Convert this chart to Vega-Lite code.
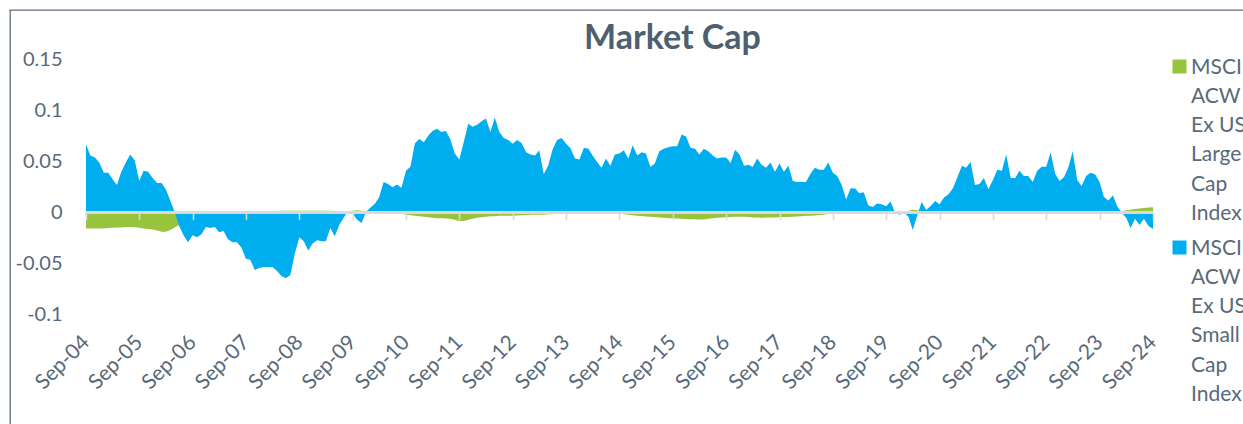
{
  "$schema": "https://vega.github.io/schema/vega-lite/v6.json",
  "width": 1233,
  "height": 414,
  "autosize": {"type": "none"},
  "padding": {"left": 10, "top": 10, "right": 0, "bottom": 0},
  "background": "#ffffff",
  "config": {
    "font": "Lato",
    "view": {"stroke": "#5f6e7d", "strokeWidth": 1.3, "strokeDash": [1233, 1647, 414, 0]},
    "style": {"guide-label": {"lineHeight": 29.3, "dy": -10}}
  },
  "title": {"text": "Market Cap", "font": "Lato", "fontSize": 34, "fontWeight": "bold", "color": "#4e5f70", "anchor": "middle", "frame": "group", "offset": -46, "dx": 46},
  "data": {"values": [
    {"date":"2004-09-01","large":-0.0155,"small":0.067},
    {"date":"2004-10-01","large":-0.0155,"small":0.056},
    {"date":"2004-11-01","large":-0.0155,"small":0.054},
    {"date":"2004-12-01","large":-0.0155,"small":0.049},
    {"date":"2005-01-01","large":-0.0155,"small":0.039},
    {"date":"2005-02-01","large":-0.015,"small":0.039},
    {"date":"2005-03-01","large":-0.0148,"small":0.033},
    {"date":"2005-04-01","large":-0.0145,"small":0.027},
    {"date":"2005-05-01","large":-0.0145,"small":0.040},
    {"date":"2005-06-01","large":-0.014,"small":0.049},
    {"date":"2005-07-01","large":-0.014,"small":0.057},
    {"date":"2005-08-01","large":-0.0142,"small":0.051},
    {"date":"2005-09-01","large":-0.0148,"small":0.031},
    {"date":"2005-10-01","large":-0.0155,"small":0.041},
    {"date":"2005-11-01","large":-0.016,"small":0.040},
    {"date":"2005-12-01","large":-0.0165,"small":0.034},
    {"date":"2006-01-01","large":-0.0175,"small":0.029},
    {"date":"2006-02-01","large":-0.0185,"small":0.029},
    {"date":"2006-03-01","large":-0.0185,"small":0.023},
    {"date":"2006-04-01","large":-0.017,"small":0.012},
    {"date":"2006-05-01","large":-0.0145,"small":0.001},
    {"date":"2006-06-01","large":-0.012,"small":-0.013},
    {"date":"2006-07-01","large":-0.009,"small":-0.022},
    {"date":"2006-08-01","large":-0.006,"small":-0.029},
    {"date":"2006-09-01","large":-0.004,"small":-0.022},
    {"date":"2006-10-01","large":-0.003,"small":-0.024},
    {"date":"2006-11-01","large":-0.002,"small":-0.021},
    {"date":"2006-12-01","large":-0.002,"small":-0.014},
    {"date":"2007-01-01","large":-0.001,"small":-0.015},
    {"date":"2007-02-01","large":-0.001,"small":-0.014},
    {"date":"2007-03-01","large":0,"small":-0.019},
    {"date":"2007-04-01","large":0,"small":-0.018},
    {"date":"2007-05-01","large":0,"small":-0.026},
    {"date":"2007-06-01","large":0,"small":-0.029},
    {"date":"2007-07-01","large":0,"small":-0.029},
    {"date":"2007-08-01","large":0,"small":-0.034},
    {"date":"2007-09-01","large":0,"small":-0.045},
    {"date":"2007-10-01","large":0,"small":-0.046},
    {"date":"2007-11-01","large":0.0005,"small":-0.056},
    {"date":"2007-12-01","large":0.001,"small":-0.054},
    {"date":"2008-01-01","large":0.001,"small":-0.053},
    {"date":"2008-02-01","large":0.001,"small":-0.053},
    {"date":"2008-03-01","large":0.0015,"small":-0.053},
    {"date":"2008-04-01","large":0.0015,"small":-0.057},
    {"date":"2008-05-01","large":0.002,"small":-0.062},
    {"date":"2008-06-01","large":0.002,"small":-0.064},
    {"date":"2008-07-01","large":0.002,"small":-0.061},
    {"date":"2008-08-01","large":0.002,"small":-0.040},
    {"date":"2008-09-01","large":0.002,"small":-0.024},
    {"date":"2008-10-01","large":0.002,"small":-0.028},
    {"date":"2008-11-01","large":0.002,"small":-0.037},
    {"date":"2008-12-01","large":0.002,"small":-0.030},
    {"date":"2009-01-01","large":0.002,"small":-0.027},
    {"date":"2009-02-01","large":0.002,"small":-0.028},
    {"date":"2009-03-01","large":0.002,"small":-0.028},
    {"date":"2009-04-01","large":0.0018,"small":-0.015},
    {"date":"2009-05-01","large":0.0015,"small":-0.023},
    {"date":"2009-06-01","large":0.001,"small":-0.012},
    {"date":"2009-07-01","large":0.0005,"small":-0.005},
    {"date":"2009-08-01","large":0.001,"small":0.002},
    {"date":"2009-09-01","large":0.002,"small":-0.001},
    {"date":"2009-10-01","large":0.0025,"small":-0.007},
    {"date":"2009-11-01","large":0.002,"small":-0.010},
    {"date":"2009-12-01","large":0.001,"small":0.001},
    {"date":"2010-01-01","large":0,"small":0.005},
    {"date":"2010-02-01","large":0,"small":0.009},
    {"date":"2010-03-01","large":0,"small":0.015},
    {"date":"2010-04-01","large":0,"small":0.030},
    {"date":"2010-05-01","large":0,"small":0.028},
    {"date":"2010-06-01","large":0,"small":0.025},
    {"date":"2010-07-01","large":0,"small":0.0275},
    {"date":"2010-08-01","large":-0.001,"small":0.0245},
    {"date":"2010-09-01","large":-0.002,"small":0.041},
    {"date":"2010-10-01","large":-0.0025,"small":0.045},
    {"date":"2010-11-01","large":-0.003,"small":0.068},
    {"date":"2010-12-01","large":-0.0035,"small":0.072},
    {"date":"2011-01-01","large":-0.004,"small":0.069},
    {"date":"2011-02-01","large":-0.0045,"small":0.0755},
    {"date":"2011-03-01","large":-0.005,"small":0.080},
    {"date":"2011-04-01","large":-0.0055,"small":0.082},
    {"date":"2011-05-01","large":-0.0055,"small":0.079},
    {"date":"2011-06-01","large":-0.0057,"small":0.080},
    {"date":"2011-07-01","large":-0.006,"small":0.072},
    {"date":"2011-08-01","large":-0.007,"small":0.058},
    {"date":"2011-09-01","large":-0.008,"small":0.052},
    {"date":"2011-10-01","large":-0.008,"small":0.069},
    {"date":"2011-11-01","large":-0.007,"small":0.087},
    {"date":"2011-12-01","large":-0.006,"small":0.084},
    {"date":"2012-01-01","large":-0.005,"small":0.086},
    {"date":"2012-02-01","large":-0.0045,"small":0.0895},
    {"date":"2012-03-01","large":-0.004,"small":0.092},
    {"date":"2012-04-01","large":-0.0035,"small":0.079},
    {"date":"2012-05-01","large":-0.0035,"small":0.093},
    {"date":"2012-06-01","large":-0.003,"small":0.079},
    {"date":"2012-07-01","large":-0.003,"small":0.073},
    {"date":"2012-08-01","large":-0.003,"small":0.071},
    {"date":"2012-09-01","large":-0.003,"small":0.0675},
    {"date":"2012-10-01","large":-0.0028,"small":0.071},
    {"date":"2012-11-01","large":-0.0025,"small":0.068},
    {"date":"2012-12-01","large":-0.0025,"small":0.059},
    {"date":"2013-01-01","large":-0.002,"small":0.057},
    {"date":"2013-02-01","large":-0.002,"small":0.056},
    {"date":"2013-03-01","large":-0.002,"small":0.061},
    {"date":"2013-04-01","large":-0.002,"small":0.0375},
    {"date":"2013-05-01","large":-0.0015,"small":0.046},
    {"date":"2013-06-01","large":-0.0015,"small":0.062},
    {"date":"2013-07-01","large":-0.001,"small":0.071},
    {"date":"2013-08-01","large":-0.001,"small":0.073},
    {"date":"2013-09-01","large":-0.001,"small":0.0675},
    {"date":"2013-10-01","large":-0.001,"small":0.063},
    {"date":"2013-11-01","large":-0.001,"small":0.053},
    {"date":"2013-12-01","large":-0.001,"small":0.052},
    {"date":"2014-01-01","large":-0.001,"small":0.0635},
    {"date":"2014-02-01","large":-0.001,"small":0.0626},
    {"date":"2014-03-01","large":-0.001,"small":0.056},
    {"date":"2014-04-01","large":-0.001,"small":0.0495},
    {"date":"2014-05-01","large":-0.001,"small":0.044},
    {"date":"2014-06-01","large":-0.001,"small":0.053},
    {"date":"2014-07-01","large":-0.001,"small":0.046},
    {"date":"2014-08-01","large":-0.001,"small":0.057},
    {"date":"2014-09-01","large":-0.001,"small":0.058},
    {"date":"2014-10-01","large":-0.0015,"small":0.061},
    {"date":"2014-11-01","large":-0.002,"small":0.053},
    {"date":"2014-12-01","large":-0.0025,"small":0.066},
    {"date":"2015-01-01","large":-0.003,"small":0.056},
    {"date":"2015-02-01","large":-0.0033,"small":0.059},
    {"date":"2015-03-01","large":-0.0036,"small":0.058},
    {"date":"2015-04-01","large":-0.004,"small":0.0446},
    {"date":"2015-05-01","large":-0.0043,"small":0.048},
    {"date":"2015-06-01","large":-0.0046,"small":0.060},
    {"date":"2015-07-01","large":-0.005,"small":0.0626},
    {"date":"2015-08-01","large":-0.0053,"small":0.064},
    {"date":"2015-09-01","large":-0.0055,"small":0.065},
    {"date":"2015-10-01","large":-0.0057,"small":0.065},
    {"date":"2015-11-01","large":-0.006,"small":0.0765},
    {"date":"2015-12-01","large":-0.0062,"small":0.0745},
    {"date":"2016-01-01","large":-0.0064,"small":0.0635},
    {"date":"2016-02-01","large":-0.0065,"small":0.0626},
    {"date":"2016-03-01","large":-0.0066,"small":0.057},
    {"date":"2016-04-01","large":-0.0066,"small":0.0626},
    {"date":"2016-05-01","large":-0.006,"small":0.060},
    {"date":"2016-06-01","large":-0.0055,"small":0.056},
    {"date":"2016-07-01","large":-0.005,"small":0.053},
    {"date":"2016-08-01","large":-0.0048,"small":0.054},
    {"date":"2016-09-01","large":-0.0045,"small":0.054},
    {"date":"2016-10-01","large":-0.0043,"small":0.0485},
    {"date":"2016-11-01","large":-0.004,"small":0.0616},
    {"date":"2016-12-01","large":-0.004,"small":0.057},
    {"date":"2017-01-01","large":-0.004,"small":0.046},
    {"date":"2017-02-01","large":-0.0043,"small":0.047},
    {"date":"2017-03-01","large":-0.0046,"small":0.0446},
    {"date":"2017-04-01","large":-0.0048,"small":0.053},
    {"date":"2017-05-01","large":-0.005,"small":0.047},
    {"date":"2017-06-01","large":-0.0048,"small":0.044},
    {"date":"2017-07-01","large":-0.0047,"small":0.049},
    {"date":"2017-08-01","large":-0.0046,"small":0.040},
    {"date":"2017-09-01","large":-0.0045,"small":0.048},
    {"date":"2017-10-01","large":-0.0043,"small":0.040},
    {"date":"2017-11-01","large":-0.0041,"small":0.046},
    {"date":"2017-12-01","large":-0.004,"small":0.031},
    {"date":"2018-01-01","large":-0.0037,"small":0.030},
    {"date":"2018-02-01","large":-0.0034,"small":0.030},
    {"date":"2018-03-01","large":-0.003,"small":0.030},
    {"date":"2018-04-01","large":-0.003,"small":0.038},
    {"date":"2018-05-01","large":-0.0027,"small":0.044},
    {"date":"2018-06-01","large":-0.0023,"small":0.042},
    {"date":"2018-07-01","large":-0.002,"small":0.042},
    {"date":"2018-08-01","large":-0.001,"small":0.049},
    {"date":"2018-09-01","large":0,"small":0.039},
    {"date":"2018-10-01","large":0,"small":0.036},
    {"date":"2018-11-01","large":0,"small":0.027},
    {"date":"2018-12-01","large":0,"small":0.013},
    {"date":"2019-01-01","large":0,"small":0.024},
    {"date":"2019-02-01","large":0,"small":0.0236},
    {"date":"2019-03-01","large":0,"small":0.019},
    {"date":"2019-04-01","large":0,"small":0.020},
    {"date":"2019-05-01","large":0,"small":0.0073},
    {"date":"2019-06-01","large":0,"small":0.0057},
    {"date":"2019-07-01","large":0,"small":0.009},
    {"date":"2019-08-01","large":0,"small":0.0083},
    {"date":"2019-09-01","large":0,"small":0.0063},
    {"date":"2019-10-01","large":0,"small":0.011},
    {"date":"2019-11-01","large":0,"small":0},
    {"date":"2019-12-01","large":0,"small":-0.002},
    {"date":"2020-01-01","large":0.001,"small":0},
    {"date":"2020-02-01","large":0.002,"small":-0.004},
    {"date":"2020-03-01","large":0.003,"small":-0.017},
    {"date":"2020-04-01","large":0.0025,"small":-0.0025},
    {"date":"2020-05-01","large":0.001,"small":0.0105},
    {"date":"2020-06-01","large":0,"small":0.003},
    {"date":"2020-07-01","large":0,"small":0.0063},
    {"date":"2020-08-01","large":0,"small":0.0115},
    {"date":"2020-09-01","large":0,"small":0.0083},
    {"date":"2020-10-01","large":0,"small":0.0148},
    {"date":"2020-11-01","large":0,"small":0.018},
    {"date":"2020-12-01","large":0,"small":0.024},
    {"date":"2021-01-01","large":0,"small":0.035},
    {"date":"2021-02-01","large":0,"small":0.046},
    {"date":"2021-03-01","large":0,"small":0.044},
    {"date":"2021-04-01","large":0,"small":0.0495},
    {"date":"2021-05-01","large":0,"small":0.027},
    {"date":"2021-06-01","large":0,"small":0.028},
    {"date":"2021-07-01","large":0,"small":0.034},
    {"date":"2021-08-01","large":0,"small":0.023},
    {"date":"2021-09-01","large":0,"small":0.032},
    {"date":"2021-10-01","large":0,"small":0.042},
    {"date":"2021-11-01","large":0,"small":0.041},
    {"date":"2021-12-01","large":0,"small":0.057},
    {"date":"2022-01-01","large":0,"small":0.034},
    {"date":"2022-02-01","large":0,"small":0.034},
    {"date":"2022-03-01","large":0,"small":0.041},
    {"date":"2022-04-01","large":0,"small":0.036},
    {"date":"2022-05-01","large":0,"small":0.036},
    {"date":"2022-06-01","large":0,"small":0.030},
    {"date":"2022-07-01","large":0,"small":0.041},
    {"date":"2022-08-01","large":0,"small":0.045},
    {"date":"2022-09-01","large":0,"small":0.045},
    {"date":"2022-10-01","large":0,"small":0.059},
    {"date":"2022-11-01","large":0,"small":0.038},
    {"date":"2022-12-01","large":0,"small":0.031},
    {"date":"2023-01-01","large":0,"small":0.035},
    {"date":"2023-02-01","large":0,"small":0.045},
    {"date":"2023-03-01","large":0,"small":0.060},
    {"date":"2023-04-01","large":0,"small":0.032},
    {"date":"2023-05-01","large":0,"small":0.026},
    {"date":"2023-06-01","large":0,"small":0.036},
    {"date":"2023-07-01","large":0,"small":0.039},
    {"date":"2023-08-01","large":0,"small":0.0375},
    {"date":"2023-09-01","large":0,"small":0.030},
    {"date":"2023-10-01","large":0,"small":0.0154},
    {"date":"2023-11-01","large":0,"small":0.012},
    {"date":"2023-12-01","large":0,"small":0.017},
    {"date":"2024-01-01","large":0,"small":0.006},
    {"date":"2024-02-01","large":0.0015,"small":0},
    {"date":"2024-03-01","large":0.0025,"small":-0.005},
    {"date":"2024-04-01","large":0.003,"small":-0.015},
    {"date":"2024-05-01","large":0.0037,"small":-0.006},
    {"date":"2024-06-01","large":0.0042,"small":-0.012},
    {"date":"2024-07-01","large":0.0047,"small":-0.006},
    {"date":"2024-08-01","large":0.005,"small":-0.013},
    {"date":"2024-09-01","large":0.0054,"small":-0.016}
  ]},
  "resolve": {"axis": {"x": "independent"}},
  "layer": [
    {
      "mark": {"type": "area", "opacity": 1, "interpolate": "linear"},
      "encoding": {
        "x": {
          "field": "date", "type": "temporal",
          "scale": {"type": "utc", "domain": [{"year": 2003, "month": 3, "date": 31, "utc": true}, {"year": 2026, "month": 5, "date": 10, "utc": true}]},
          "axis": {
            "orient": "bottom", "offset": -109, "title": null, "domain": false, "ticks": false, "grid": false,
            "format": "%b-%y", "labelAngle": -45, "labelAlign": "right", "labelBaseline": "middle", "labelPadding": 31, "labelOffset": 7,
            "labelFont": "Lato", "labelFontSize": 21, "labelColor": "#596979", "labelOverlap": false,
            "values": [
              {"year": 2004, "month": 9, "date": 1, "utc": true}, {"year": 2005, "month": 9, "date": 1, "utc": true},
              {"year": 2006, "month": 9, "date": 1, "utc": true}, {"year": 2007, "month": 9, "date": 1, "utc": true},
              {"year": 2008, "month": 9, "date": 1, "utc": true}, {"year": 2009, "month": 9, "date": 1, "utc": true},
              {"year": 2010, "month": 9, "date": 1, "utc": true}, {"year": 2011, "month": 9, "date": 1, "utc": true},
              {"year": 2012, "month": 9, "date": 1, "utc": true}, {"year": 2013, "month": 9, "date": 1, "utc": true},
              {"year": 2014, "month": 9, "date": 1, "utc": true}, {"year": 2015, "month": 9, "date": 1, "utc": true},
              {"year": 2016, "month": 9, "date": 1, "utc": true}, {"year": 2017, "month": 9, "date": 1, "utc": true},
              {"year": 2018, "month": 9, "date": 1, "utc": true}, {"year": 2019, "month": 9, "date": 1, "utc": true},
              {"year": 2020, "month": 9, "date": 1, "utc": true}, {"year": 2021, "month": 9, "date": 1, "utc": true},
              {"year": 2022, "month": 9, "date": 1, "utc": true}, {"year": 2023, "month": 9, "date": 1, "utc": true},
              {"year": 2024, "month": 9, "date": 1, "utc": true}
            ]
          }
        },
        "y": {
          "field": "large", "type": "quantitative",
          "scale": {"domain": [-0.2066, 0.1982], "nice": false, "zero": false},
          "axis": {"orient": "left", "offset": -52, "title": null, "domain": false, "ticks": false, "grid": false, "labelPadding": 0, "labelOffset": 10,
                   "values": [-0.1, -0.05, 0, 0.05, 0.1, 0.15], "labelFont": "Lato", "labelFontSize": 20, "labelColor": "#596979",
                   "labelExpr": "datum.value < 0 ? '-' + format(-datum.value, '~g') : format(datum.value, '~g')"}
        },
        "color": {
          "datum": "MSCI ACW Ex US Large Cap Index", "type": "nominal",
          "scale": {"domain": ["MSCI ACW Ex US Large Cap Index", "MSCI ACW Ex US Small Cap Index"], "range": ["#97c33d", "#00aeef"]},
          "legend": {
            "orient": "none", "legendX": 1159, "legendY": 46, "title": null, "padding": 0,
            "symbolType": "square", "symbolSize": 196, "symbolStrokeWidth": 0,
            "labelFont": "Lato", "labelFontSize": 21, "labelColor": "#596979", "labelOffset": 1, "labelLimit": 0,
            "labelBaseline": "top", "rowPadding": 13,
            "labelExpr": "indexof(datum.label, 'Large') >= 0 ? ['MSCI', 'ACW', 'Ex US', 'Large', 'Cap', 'Index'] : ['MSCI', 'ACW', 'Ex US', 'Small', 'Cap', 'Index']"
          }
        }
      }
    },
    {
      "mark": {"type": "area", "opacity": 1, "interpolate": "linear"},
      "encoding": {
        "x": {
          "field": "date", "type": "temporal",
          "scale": {"type": "utc", "domain": [{"year": 2003, "month": 3, "date": 31, "utc": true}, {"year": 2026, "month": 5, "date": 10, "utc": true}]},
          "axis": {
            "orient": "bottom", "offset": -211.3, "title": null, "domain": false, "labels": false, "grid": false,
            "ticks": true, "tickSize": 7, "tickColor": "#d9d9d9", "tickWidth": 1.5, "zindex": 1,
            "values": [
              {"year": 2004, "month": 9, "date": 1, "utc": true}, {"year": 2005, "month": 9, "date": 1, "utc": true},
              {"year": 2006, "month": 9, "date": 1, "utc": true}, {"year": 2007, "month": 9, "date": 1, "utc": true},
              {"year": 2008, "month": 9, "date": 1, "utc": true}, {"year": 2009, "month": 9, "date": 1, "utc": true},
              {"year": 2010, "month": 9, "date": 1, "utc": true}, {"year": 2011, "month": 9, "date": 1, "utc": true},
              {"year": 2012, "month": 9, "date": 1, "utc": true}, {"year": 2013, "month": 9, "date": 1, "utc": true},
              {"year": 2014, "month": 9, "date": 1, "utc": true}, {"year": 2015, "month": 9, "date": 1, "utc": true},
              {"year": 2016, "month": 9, "date": 1, "utc": true}, {"year": 2017, "month": 9, "date": 1, "utc": true},
              {"year": 2018, "month": 9, "date": 1, "utc": true}, {"year": 2019, "month": 9, "date": 1, "utc": true},
              {"year": 2020, "month": 9, "date": 1, "utc": true}, {"year": 2021, "month": 9, "date": 1, "utc": true},
              {"year": 2022, "month": 9, "date": 1, "utc": true}, {"year": 2023, "month": 9, "date": 1, "utc": true},
              {"year": 2024, "month": 9, "date": 1, "utc": true}
            ]
          }
        },
        "y": {
          "field": "small", "type": "quantitative",
          "scale": {"domain": [-0.2066, 0.1982], "nice": false, "zero": false},
          "axis": {"orient": "left", "offset": -52, "title": null, "domain": false, "ticks": false, "grid": false, "labelPadding": 0, "labelOffset": 10,
                   "values": [-0.1, -0.05, 0, 0.05, 0.1, 0.15], "labelFont": "Lato", "labelFontSize": 20, "labelColor": "#596979",
                   "labelExpr": "datum.value < 0 ? '-' + format(-datum.value, '~g') : format(datum.value, '~g')"}
        },
        "color": {"datum": "MSCI ACW Ex US Small Cap Index", "type": "nominal"}
      }
    },
    {
      "mark": {"type": "rule", "color": "#d9d9d9", "strokeWidth": 2},
      "encoding": {
        "x": {"datum": {"year": 2004, "month": 9, "date": 1, "utc": true}, "type": "temporal", "axis": null},
        "x2": {"datum": {"year": 2024, "month": 9, "date": 1, "utc": true}},
        "y": {"datum": 0, "type": "quantitative",
              "axis": {"orient": "left", "offset": -52, "title": null, "domain": false, "ticks": false, "grid": false, "labelPadding": 0, "labelOffset": 10,
                       "values": [-0.1, -0.05, 0, 0.05, 0.1, 0.15], "labelFont": "Lato", "labelFontSize": 20, "labelColor": "#596979",
                       "labelExpr": "datum.value < 0 ? '-' + format(-datum.value, '~g') : format(datum.value, '~g')"}}
      }
    }
  ]
}
